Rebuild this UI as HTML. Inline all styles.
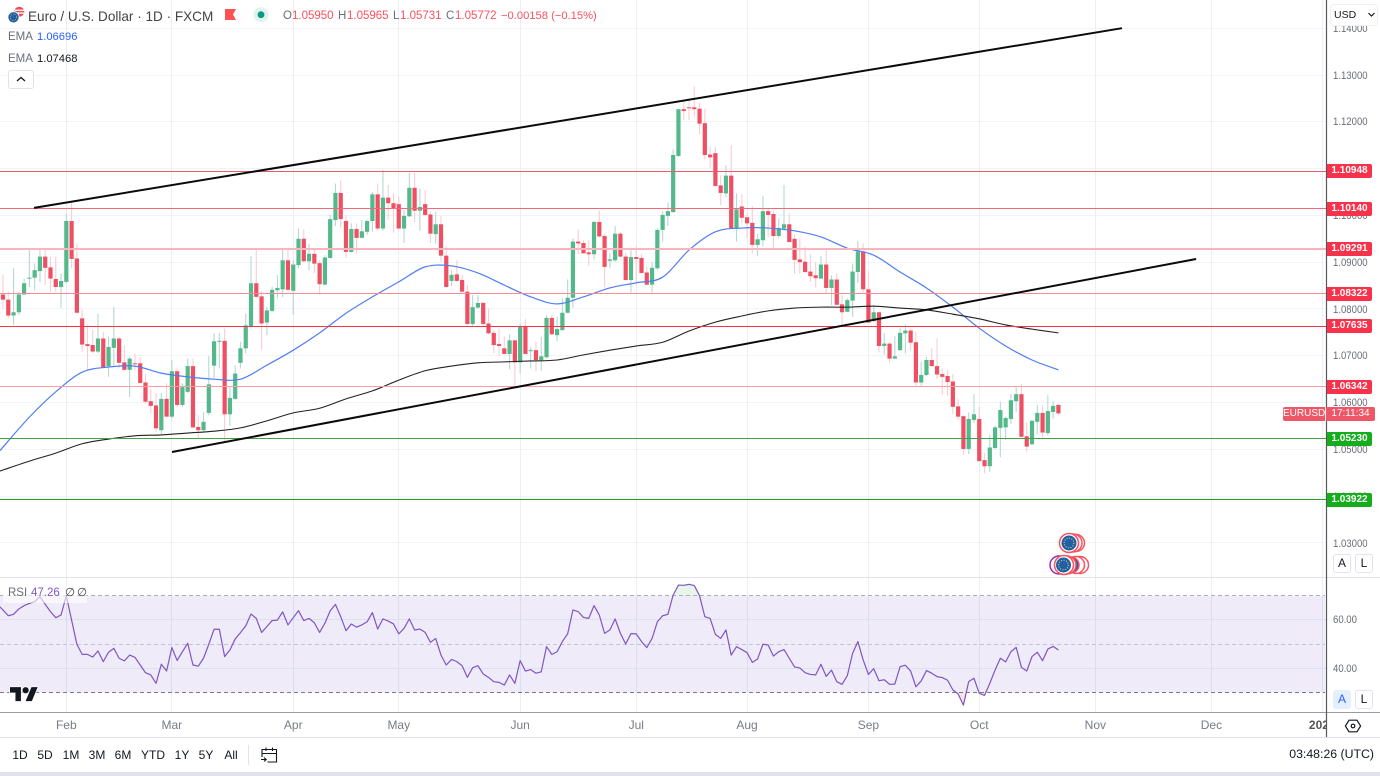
<!DOCTYPE html>
<html lang="en"><head><meta charset="utf-8"><title>EURUSD chart</title>
<style>
html,body{margin:0;padding:0;background:#fff}
body{width:1380px;height:776px;position:relative;overflow:hidden;font-family:"Liberation Sans",sans-serif;color:#131722}
svg{position:absolute;left:0;top:0}
.t{position:absolute;white-space:nowrap;line-height:1}
.btn{position:absolute;box-sizing:border-box;border:1px solid #e0e3eb;border-radius:3px;background:#fff;text-align:center}
.r{color:#f7525f}.g{color:#6a6d78}
.range{position:absolute;top:749px;font-size:12px;line-height:1;transform:translateX(-50%);color:#131722}
</style></head>
<body>
<svg id="chart" width="1380" height="776" viewBox="0 0 1380 776" xmlns="http://www.w3.org/2000/svg">
<defs>
<clipPath id="pane"><rect x="0" y="0" width="1326" height="577"></rect></clipPath>
<clipPath id="rsiAbove"><rect x="0" y="578" width="1326" height="17.7"></rect></clipPath>
<clipPath id="rsiBelow"><rect x="0" y="692.3" width="1326" height="20"></rect></clipPath>
</defs>
<g id="grid"></g>
<g id="rsiPane"></g>
<g id="series" clip-path="url(#pane)"></g>
<g id="levels" clip-path="url(#pane)"></g>
<g id="trends" clip-path="url(#pane)"></g>
<g>
<circle cx="1076" cy="543" r="8.5" fill="#fff" stroke="#f7525f" stroke-width="1.5"/>
<circle cx="1073" cy="543" r="9" fill="#fff" stroke="#f7525f" stroke-width="1.5"/>
<circle cx="1069" cy="543" r="9.5" fill="#fff" stroke="#f7525f" stroke-width="1.5"/>
<circle cx="1069" cy="543" r="7.5" fill="#1d5fa8"/>
<circle cx="1069" cy="543" r="4.8" fill="none" stroke="#f4d03f" stroke-width="1.1" stroke-dasharray="1 1.5"/>
</g>
<g>
<circle cx="1080" cy="565" r="8.5" fill="#fff" stroke="#f7525f" stroke-width="1.5"/>
<circle cx="1076" cy="565" r="8.5" fill="#fff" stroke="#f7525f" stroke-width="1.5"/>
<circle cx="1071" cy="565" r="8" fill="#1d5fa8" stroke="#f7525f" stroke-width="1.5"/>
<circle cx="1059" cy="565" r="9" fill="#fff" stroke="#9c27b0" stroke-width="1.5"/>
<circle cx="1067" cy="565" r="9" fill="#fff" stroke="#f7525f" stroke-width="1.5"/>
<circle cx="1064" cy="565" r="9.5" fill="#fff" stroke="#f7525f" stroke-width="1.5"/>
<circle cx="1063.5" cy="565" r="7.5" fill="#1d5fa8"/>
<circle cx="1063.5" cy="565" r="4.8" fill="none" stroke="#f4d03f" stroke-width="1.1" stroke-dasharray="1 1.5"/>
</g>
<g transform="translate(10 684) scale(.78)">
<path d="M14 22H7V11H0V4h14v18zM28 22h-8l7.5-18h8L28 22z" fill="#131722" stroke="#fff" stroke-width="2" paint-order="stroke"/>
<circle cx="20" cy="8" r="4" fill="#131722" stroke="#fff" stroke-width="2" paint-order="stroke"/>
</g>
<g id="axes"></g>
<g>
<circle cx="19.3" cy="11.7" r="5" fill="#e8505b"/><rect x="15" y="9.6" width="9" height="1.3" fill="#fff"/><rect x="15" y="12.4" width="9" height="1.3" fill="#fff"/>
<circle cx="13.5" cy="17.3" r="5.6" fill="#1d5fa8" stroke="#fff" stroke-width=".8"/>
<circle cx="13.5" cy="17.3" r="3.2" fill="none" stroke="#f4d03f" stroke-width=".8" stroke-dasharray=".8 1.2"/>
</g>
<path d="M225 9h11l-3 5.5 3 5.5h-11z" fill="#ff5252"/>
<g><circle cx="261" cy="14.7" r="7.5" fill="#e0f3ef"/><circle cx="261" cy="14.7" r="3.4" fill="#089981"/></g>
<g fill="none" stroke="#131722" stroke-width="1.2">
<path d="M1349 720.2h8l3.6 5.8-3.6 5.8h-8l-3.6-5.8z"/><circle cx="1353" cy="726" r="1.8"/></g>
<g fill="none" stroke="#131722" stroke-width="1.1">
<path d="M262 757v-7.5h14.5v12.5h-9M262 753.5h14.5M266 747.5v3.5M272.5 747.5v3.5M261 759.5h5M264 757.5l2.2 2-2.2 2"/></g>
</svg>

<div class="t" style="left:28px;top:9px;font-size:14px;color:#444;transform:scaleX(.968);transform-origin:left center">Euro / U.S. Dollar · 1D · FXCM</div>
<div class="t g" style="left:283px;top:10.5px;font-size:11.5px">O</div>
<div class="t r" style="left:292px;top:10.5px;font-size:11.5px">1.05950</div>
<div class="t g" style="left:338px;top:10.5px;font-size:11.5px">H</div>
<div class="t r" style="left:347px;top:10.5px;font-size:11.5px">1.05965</div>
<div class="t g" style="left:393px;top:10.5px;font-size:11.5px">L</div>
<div class="t r" style="left:400px;top:10.5px;font-size:11.5px">1.05731</div>
<div class="t g" style="left:446px;top:10.5px;font-size:11.5px">C</div>
<div class="t r" style="left:455px;top:10.5px;font-size:11.5px">1.05772</div>
<div class="t r" style="left:501px;top:10.5px;font-size:11.2px">−0.00158 (−0.15%)</div>
<div class="t g" style="left:8px;top:31.5px;font-size:11.5px">EMA</div>
<div class="t" style="left:37px;top:31.5px;font-size:11.2px;color:#2962ff">1.06696</div>
<div class="t g" style="left:8px;top:53.5px;font-size:11.5px">EMA</div>
<div class="t" style="left:37px;top:53.5px;font-size:11.2px;color:#131722">1.07468</div>
<div class="btn" style="left:8px;top:70px;width:26px;height:19px">
<svg width="24" height="17"><path d="M8 10l4-3.5 4 3.5" fill="none" stroke="#131722" stroke-width="1.3"/></svg></div>

<div style="position:absolute;left:3px;top:585px;width:84px;height:18px;background:rgba(255,255,255,.6)"></div>
<div class="t g" style="left:8px;top:588px;font-size:11.5px">RSI</div>
<div class="t" style="left:31px;top:588px;font-size:11.5px;color:#7e57c2">47.26</div>
<div class="t g" style="left:65px;top:588px;font-size:11.5px;color:#444">∅</div>
<div class="t g" style="left:77px;top:588px;font-size:11.5px;color:#444">∅</div>

<div id="labels"></div>
<div class="btn" style="left:1330px;top:4px;width:48px;height:22px;border-color:#eef0f4;border-radius:4px"></div>
<div class="t" style="left:1334px;top:10px;font-size:10.5px;color:#131722">USD</div>
<svg width="10" height="8" style="left:1367px;top:11px"><path d="M1.5 2l3 3 3-3" fill="none" stroke="#131722" stroke-width="1.2"/></svg>
<div class="t" style="left:1283px;top:407px;width:42px;height:14px;line-height:14px;background:#ee5767;color:#fff;font-size:10px;text-align:center;border-radius:2px 0 0 2px">EURUSD</div>
<div class="t" style="left:1326px;top:407px;width:49px;height:14px;line-height:14px;background:#ee5767;color:#fff;font-size:10px;text-align:center;border-radius:0 2px 2px 0">17:11:34</div>

<div class="btn" style="left:1333px;top:554px;width:18px;height:19px;font-size:12px;line-height:17px">A</div>
<div class="btn" style="left:1355px;top:554px;width:18px;height:19px;font-size:12px;line-height:17px">L</div>
<div class="btn" style="left:1333px;top:690px;width:18px;height:19px;font-size:12px;line-height:17px;background:#e3effd;border-color:#e3effd;color:#2962ff">A</div>
<div class="btn" style="left:1355px;top:690px;width:18px;height:19px;font-size:12px;line-height:17px">L</div>

<div class="range" style="left:20px">1D</div>
<div class="range" style="left:45px">5D</div>
<div class="range" style="left:71px">1M</div>
<div class="range" style="left:97px">3M</div>
<div class="range" style="left:123px">6M</div>
<div class="range" style="left:153px">YTD</div>
<div class="range" style="left:182px">1Y</div>
<div class="range" style="left:206px">5Y</div>
<div class="range" style="left:231px">All</div>
<div class="t" style="right:6px;top:748px;font-size:12.3px;color:#131722">03:48:26 (UTC)</div>
<div style="position:absolute;left:0;top:772px;width:1380px;height:4px;background:#e0e3eb"></div>

<script>
const opens=[1.0831,1.0820,1.0786,1.0793,1.0831,1.0865,1.0867,1.0881,1.0912,1.0889,
1.0864,1.0847,1.0858,1.0988,1.0908,1.0780,1.0725,1.0723,1.0709,1.0737,
1.0678,1.0717,1.0737,1.0686,1.0670,1.0684,1.0684,1.0643,1.0603,1.0594,
1.0541,1.0608,1.0570,1.0667,1.0595,1.0623,1.0678,1.0548,1.0541,1.0578,
1.0679,1.0730,1.0732,1.0575,1.0608,1.0685,1.0716,1.0763,1.0855,1.0827,
1.0771,1.0796,1.0840,1.0842,1.0904,1.0839,1.0894,1.0950,1.0902,1.0918,
1.0898,1.0852,1.0909,1.0990,1.1048,1.0988,1.0922,1.0971,1.0952,1.0965,
1.0988,1.1045,1.0972,1.1038,1.1026,1.1024,1.0972,1.0998,1.1059,1.1010,
1.1024,1.1002,1.0960,1.0981,1.0914,1.0860,1.0874,1.0862,1.0837,1.0768,
1.0803,1.0813,1.0769,1.0749,1.0725,1.0716,1.0704,1.0733,1.0686,1.0763,
1.0710,1.0712,1.0691,1.0697,1.0781,1.0744,1.0755,1.0792,1.0824,1.0944,
1.0941,1.0921,1.0917,1.0986,1.0956,1.0903,1.0904,1.0961,1.0912,1.0862,
1.0911,1.0909,1.0878,1.0852,1.0887,1.0969,1.0999,1.1007,1.1127,1.1227,
1.1231,1.1231,1.1228,1.1197,1.1130,1.1133,1.1064,1.1047,1.1085,1.0973,
1.1019,1.0996,1.0984,1.0937,1.0947,1.1009,1.1003,1.0956,1.0972,1.0981,
1.0950,1.0906,1.0901,1.0880,1.0872,1.0865,1.0895,1.0845,1.0863,1.0810,
1.0794,1.0818,1.0879,1.0923,1.0842,1.0774,1.0793,1.0721,1.0726,1.0694,
1.0712,1.0748,1.0754,1.0729,1.0643,1.0659,1.0691,1.0678,1.0661,1.0657,
1.0645,1.0592,1.0571,1.0501,1.0563,1.0565,1.0477,1.0464,1.0503,1.0546,
1.0547,1.0565,1.0603,1.0618,1.0528,1.0511,1.0559,1.0578,1.0535,1.0580,1.0595];
const highs=[1.0874,1.0837,1.0887,1.0837,1.0865,1.0928,1.0897,1.0926,1.0929,1.0912,
1.0912,1.0876,1.1004,1.1031,1.0940,1.0799,1.0766,1.0755,1.0790,1.0751,
1.0741,1.0805,1.0741,1.0721,1.0698,1.0705,1.0698,1.0662,1.0628,1.0620,
1.0620,1.0641,1.0691,1.0673,1.0641,1.0694,1.0694,1.0573,1.0580,1.0699,
1.0748,1.0749,1.0758,1.0634,1.0680,1.0730,1.0790,1.0913,1.0929,1.0839,
1.0805,1.0847,1.0872,1.0926,1.0927,1.0904,1.0972,1.0970,1.0939,1.0926,
1.0904,1.0915,1.1001,1.1068,1.1075,1.1001,1.0983,1.0983,1.0990,1.0991,
1.1050,1.1068,1.1097,1.1065,1.1047,1.1040,1.1011,1.1091,1.1091,1.1057,
1.1054,1.1008,1.1008,1.0998,1.0934,1.0883,1.0904,1.0872,1.0851,1.0830,
1.0830,1.0815,1.0801,1.0755,1.0758,1.0741,1.0746,1.0734,1.0769,1.0778,
1.0719,1.0730,1.0741,1.0787,1.0787,1.0783,1.0823,1.0863,1.0951,1.0970,
1.0947,1.0947,1.0988,1.1011,1.0960,1.0919,1.0977,1.0965,1.0920,1.0931,
1.0934,1.0917,1.0890,1.0901,1.0972,1.1008,1.1027,1.1141,1.1228,1.1243,
1.1250,1.1276,1.1241,1.1228,1.1147,1.1147,1.1086,1.1107,1.1150,1.1047,
1.1045,1.1004,1.1020,1.0961,1.1042,1.1015,1.1010,1.0994,1.1065,1.1004,
1.0960,1.0951,1.0933,1.0917,1.0901,1.0913,1.0929,1.0872,1.0876,1.0830,
1.0823,1.0897,1.0945,1.0940,1.0881,1.0808,1.0794,1.0749,1.0730,1.0742,
1.0759,1.0767,1.0759,1.0751,1.0687,1.0698,1.0716,1.0737,1.0673,1.0671,
1.0661,1.0608,1.0573,1.0579,1.0618,1.0591,1.0493,1.0531,1.0551,1.0602,
1.0570,1.0618,1.0635,1.0640,1.0558,1.0563,1.0595,1.0594,1.0616,1.0603,1.0597];
const lows=[1.0801,1.0780,1.0766,1.0787,1.0830,1.0847,1.0840,1.0858,1.0851,1.0837,
1.0837,1.0803,1.0855,1.0887,1.0790,1.0709,1.0671,1.0705,1.0706,1.0673,
1.0655,1.0677,1.0673,1.0669,1.0612,1.0669,1.0641,1.0598,1.0577,1.0538,
1.0533,1.0570,1.0566,1.0591,1.0591,1.0620,1.0545,1.0523,1.0538,1.0573,
1.0652,1.0673,1.0516,1.0550,1.0605,1.0673,1.0705,1.0758,1.0825,1.0712,
1.0744,1.0794,1.0823,1.0825,1.0839,1.0787,1.0887,1.0899,1.0883,1.0877,
1.0831,1.0851,1.0908,1.0977,1.0972,1.0910,1.0920,1.0919,1.0951,1.0958,
1.0965,1.0968,1.0967,1.0991,1.0963,1.0970,1.0941,1.0997,1.0986,1.0967,
1.0998,1.0941,1.0940,1.0901,1.0846,1.0849,1.0858,1.0835,1.0766,1.0762,
1.0801,1.0762,1.0746,1.0706,1.0701,1.0703,1.0671,1.0634,1.0662,1.0703,
1.0673,1.0667,1.0668,1.0694,1.0744,1.0731,1.0753,1.0790,1.0803,1.0917,
1.0918,1.0892,1.0906,1.0953,1.0846,1.0887,1.0901,1.0910,1.0860,1.0835,
1.0851,1.0876,1.0851,1.0835,1.0884,1.0944,1.0977,1.1006,1.1125,1.1204,
1.1204,1.1209,1.1174,1.1120,1.1102,1.1061,1.1022,1.1038,1.0971,1.0944,
1.0983,1.0953,1.0919,1.0913,1.0934,1.0954,1.0929,1.0951,1.0967,1.0942,
1.0875,1.0876,1.0877,1.0858,1.0846,1.0864,1.0832,1.0808,1.0808,1.0766,
1.0793,1.0783,1.0856,1.0835,1.0771,1.0773,1.0707,1.0702,1.0685,1.0694,
1.0711,1.0705,1.0712,1.0634,1.0635,1.0657,1.0677,1.0650,1.0616,1.0614,
1.0575,1.0563,1.0488,1.0490,1.0557,1.0474,1.0449,1.0452,1.0500,1.0483,
1.0520,1.0554,1.0580,1.0526,1.0495,1.0509,1.0533,1.0521,1.0529,1.0566,1.0573];
const closes=[1.0820,1.0786,1.0793,1.0831,1.0855,1.0867,1.0883,1.0912,1.0888,1.0865,
1.0847,1.0860,1.0988,1.0907,1.0792,1.0724,1.0721,1.0709,1.0737,1.0675,
1.0719,1.0737,1.0685,1.0670,1.0694,1.0683,1.0642,1.0602,1.0593,1.0545,
1.0608,1.0570,1.0667,1.0595,1.0633,1.0678,1.0547,1.0541,1.0559,1.0639,
1.0731,1.0732,1.0575,1.0610,1.0662,1.0716,1.0765,1.0855,1.0826,1.0769,
1.0797,1.0841,1.0845,1.0904,1.0841,1.0895,1.0950,1.0902,1.0918,1.0897,
1.0853,1.0910,1.0992,1.1048,1.0992,1.0922,1.0971,1.0952,1.0966,1.0988,
1.1045,1.0972,1.1038,1.1026,1.1014,1.0972,1.0999,1.1059,1.1010,1.1018,
1.1001,1.0961,1.0981,1.0914,1.0847,1.0873,1.0860,1.0837,1.0768,1.0804,
1.0813,1.0768,1.0748,1.0723,1.0721,1.0704,1.0733,1.0686,1.0762,1.0704,
1.0712,1.0691,1.0699,1.0781,1.0746,1.0757,1.0792,1.0824,1.0944,1.0940,
1.0919,1.0917,1.0986,1.0955,1.0890,1.0906,1.0961,1.0912,1.0862,1.0911,
1.0907,1.0877,1.0852,1.0888,1.0969,1.1001,1.1009,1.1129,1.1227,1.1223,
1.1229,1.1227,1.1196,1.1129,1.1124,1.1063,1.1048,1.1085,1.0973,1.1013,
1.0995,1.0983,1.0937,1.0949,1.1009,1.1001,1.0956,1.0973,1.0981,1.0943,
1.0905,1.0900,1.0879,1.0870,1.0866,1.0895,1.0845,1.0863,1.0809,1.0793,
1.0819,1.0880,1.0923,1.0842,1.0771,1.0793,1.0721,1.0726,1.0694,1.0699,
1.0749,1.0754,1.0728,1.0643,1.0659,1.0691,1.0678,1.0660,1.0655,1.0644,
1.0591,1.0570,1.0501,1.0565,1.0575,1.0475,1.0464,1.0504,1.0547,1.0584,
1.0567,1.0605,1.0618,1.0527,1.0506,1.0561,1.0578,1.0536,1.0582,1.0593,1.0577];
const emaBars=[-1,0,5,10,15,20,25,30,35,40,45,50,55,60,65,70,75,80,85,90,95,100,105,110,115,120,125,130,135,140,145,150,155,160,165,170,175,180,185,190,195,200];
const emaFast=[1.0492,1.0505,1.0569,1.0623,1.0665,1.0676,1.0678,1.0663,1.0655,1.0650,1.0650,1.0680,1.0712,1.0749,1.0791,1.0826,1.0858,1.0890,1.0892,1.0877,1.0851,1.0826,1.0811,1.0826,1.0845,1.0856,1.0868,1.0926,1.0965,1.0973,1.0973,1.0967,1.0954,1.0930,1.0915,1.0879,1.0845,1.0804,1.0759,1.0721,1.0691,1.0670];
const emaSlow=[1.0452,1.0456,1.0475,1.0492,1.0512,1.0522,1.0529,1.0531,1.0535,1.0539,1.0546,1.0561,1.0578,1.0588,1.0608,1.0625,1.0648,1.0668,1.0678,1.0685,1.0687,1.0689,1.0691,1.0702,1.0712,1.0721,1.0729,1.0753,1.0772,1.0785,1.0796,1.0802,1.0804,1.0804,1.0806,1.0802,1.0798,1.0789,1.0779,1.0766,1.0757,1.0749];
const rsiFirstBar=-1;
const rsiValues=[66.2,64.1,61.7,62.3,64.5,65.9,66.8,67.5,69.6,66.4,63.4,60.9,62.0,70.0,59.9,49.9,45.7,45.7,44.6,47.1,42.7,
46.6,48.2,44.1,43.0,45.4,44.5,41.3,38.1,37.2,33.7,41.6,38.8,48.5,43.2,46.8,50.3,41.3,40.8,44.1,49.9,
56.1,56.1,44.8,47.5,52.1,54.7,57.5,62.4,60.6,54.8,57.2,59.7,59.9,63.3,57.9,60.9,63.8,59.7,60.6,58.8,
54.8,58.6,63.7,66.4,61.3,55.5,58.3,57.0,57.9,59.2,63.0,56.2,60.4,59.5,58.3,54.2,56.5,60.4,55.8,56.2,
54.8,50.7,52.3,45.4,41.3,43.6,42.7,41.0,36.2,40.2,41.0,37.6,36.2,34.4,34.1,33.0,37.2,33.7,43.1,38.8,
39.4,37.9,38.5,48.9,45.7,46.8,51.0,54.2,64.1,63.4,61.0,60.6,65.9,62.0,54.4,55.8,60.4,54.4,50.0,54.3,
54.2,51.0,48.5,52.3,59.2,61.7,62.3,70.3,74.4,74.3,74.7,74.2,70.0,61.3,60.6,54.0,52.3,55.8,45.4,48.9,
47.7,46.4,42.4,43.8,49.9,49.6,45.0,46.8,47.7,44.1,40.5,40.1,38.1,37.4,37.2,41.6,36.6,39.2,34.4,33.3,
36.9,46.1,51.0,43.4,37.4,39.8,34.8,35.2,33.3,33.4,40.6,41.2,38.8,32.3,34.7,39.0,37.9,36.5,36.1,35.0,
31.0,29.3,24.7,34.4,35.8,29.6,28.7,33.7,39.2,44.1,42.6,46.8,48.6,40.3,38.8,44.8,46.6,43.1,47.9,49.0,47.5];
const monthLabels=["Feb","Mar","Apr","May","Jun","Jul","Aug","Sep","Oct","Nov","Dec","2024"];
const monthBars=[12,32,55,75,98,120,141,164,185,207,229,250];
const priceTicks=[1.03,1.04,1.05,1.06,1.07,1.08,1.09,1.10,1.11,1.12,1.13,1.14];
const priceTickLabels=["1.03000","1.04000","1.05000","1.06000","1.07000","1.08000","1.09000","1.10000","1.11000","1.12000","1.13000","1.14000"];
const rsiTicks=[40,60];
const rsiTickLabels=["40.00","60.00"];
const rsiBands=[70,50,30];
const levelPrices=[1.10948,1.10140,1.09291,1.08322,1.07635,1.06342,1.05230,1.03922];
const levelLabels=["1.10948","1.10140","1.09291","1.08322","1.07635","1.06342","1.05230","1.03922"];
const trendStartBars=[5.87,32.03];
const trendStartPrices=[1.1016,1.04944];
const trendEndBars=[212.05,226.1];
const trendEndPrices=[1.1400,1.09068];

const NS="http://www.w3.org/2000/svg";
const xAt=i=>3+5.277*i;
const yAt=p=>75+(1.13-p)*4680;
const rsiY=v=>644-(v-50)*2.415;
const snap=y=>Math.floor(y)+.5;
function mk(parent,tag,attrs){
  const el=document.createElementNS(NS,tag);
  for(const k in attrs)el.setAttribute(k,attrs[k]);
  parent.appendChild(el);
  return el;
}
function smoothPath(pts){
  let d='M'+pts[0][0].toFixed(2)+' '+pts[0][1].toFixed(2);
  for(let i=0;i<pts.length-1;i++){
    const p0=pts[Math.max(i-1,0)],p1=pts[i],p2=pts[i+1],p3=pts[Math.min(i+2,pts.length-1)];
    const c1x=p1[0]+(p2[0]-p0[0])/6,c1y=p1[1]+(p2[1]-p0[1])/6;
    const c2x=p2[0]-(p3[0]-p1[0])/6,c2y=p2[1]-(p3[1]-p1[1])/6;
    d+=' C'+c1x.toFixed(2)+' '+c1y.toFixed(2)+' '+c2x.toFixed(2)+' '+c2y.toFixed(2)+' '+p2[0].toFixed(2)+' '+p2[1].toFixed(2);
  }
  return d;
}
const grid=document.getElementById('grid');
const series=document.getElementById('series');
const levels=document.getElementById('levels');
const trends=document.getElementById('trends');
const rsiPane=document.getElementById('rsiPane');
const axes=document.getElementById('axes');
const labels=document.getElementById('labels');

function label(parent,name,text,css){
  const d=document.createElement('div');
  d.className='t';
  d.textContent=text;
  d.style.cssText=css;
  
  
  parent.appendChild(d);
  return d;
}
const tickCss='left:1333px;font-size:11px;color:#6a6d78;transform:scaleX(.87);transform-origin:left center;';

priceTicks.forEach((p,i)=>{
  const ln=mk(grid,'line',{x1:0,x2:1326,y1:snap(yAt(p)),y2:snap(yAt(p)),stroke:'#f0f3f7','stroke-width':1});
  
  
  label(labels,'price-tick-label',priceTickLabels[i],tickCss+`top:${yAt(p)-4.5}px`);
});
rsiTicks.forEach((v,i)=>{
  const t=label(labels,'rsi-tick-label',rsiTickLabels[i],tickCss+`top:${rsiY(v)-4.5}px`);
});
monthBars.forEach((b,i)=>{
  const x=xAt(b);
  if(x<1325){
    const ln=mk(grid,'line',{x1:snap(x),x2:snap(x),y1:0,y2:712,stroke:'#e9eff4','stroke-width':1});
    
    
  }
  const t=mk(axes,'text',{x:x,y:729,'text-anchor':'middle','font-size':12,fill:i===11?'#555':'#787b86','font-weight':i===11?'bold':'normal','font-family':'"Liberation Sans",sans-serif','clip-path':'url(#timeClip)'});
  t.textContent=monthLabels[i];
  
  
});
const timeClip=mk(document.querySelector('#chart defs'),'clipPath',{id:'timeClip'});
mk(timeClip,'rect',{x:0,y:712,width:1326,height:25});

/* RSI pane */
const band=mk(rsiPane,'rect',{x:0,y:rsiY(rsiBands[0]),width:1325,height:rsiY(rsiBands[2])-rsiY(rsiBands[0]),fill:'#7e57c2','fill-opacity':.12});


rsiTicks.forEach(v=>{
  const ln=mk(rsiPane,'line',{x1:0,x2:1326,y1:snap(rsiY(v)),y2:snap(rsiY(v)),stroke:'#dfe0ee','stroke-width':1});
  
  
});
rsiBands.forEach((v,i)=>{
  const ln=mk(rsiPane,'line',{x1:0,x2:1325,y1:snap(rsiY(v)),y2:snap(rsiY(v)),stroke:i===2?'#787b86':(i===1?'#c5c3d3':'#b0afbb'),'stroke-width':1,'stroke-dasharray':'4 3'});
  
  
});
const rsiPts=rsiValues.map((v,i)=>xAt(i+rsiFirstBar).toFixed(2)+','+rsiY(v).toFixed(2));
const rsiLastX=xAt(rsiValues.length-1+rsiFirstBar);
const overFill=mk(rsiPane,'polygon',{points:rsiPts.join(' ')+` ${rsiLastX},${rsiY(rsiBands[0])} 0,${rsiY(rsiBands[0])}`,fill:'#4caf50','fill-opacity':.12,'clip-path':'url(#rsiAbove)'});


const underFill=mk(rsiPane,'polygon',{points:rsiPts.join(' ')+` ${rsiLastX},${rsiY(rsiBands[2])} 0,${rsiY(rsiBands[2])}`,fill:'#f23645','fill-opacity':.15,'clip-path':'url(#rsiBelow)'});


const rsiLine=mk(rsiPane,'polyline',{points:rsiPts.join(' '),fill:'none',stroke:'#7e57c2','stroke-width':1.2,'stroke-linejoin':'round'});



/* Candles */
closes.forEach((c,i)=>{
  const o=opens[i],h=highs[i],l=lows[i],up=c>=o,x=xAt(i);
  const g=mk(series,'g',{});
  
  
  mk(g,'line',{x1:x,x2:x,y1:yAt(h),y2:yAt(l),stroke:up?'#b4d8d4':'#f9ccd2','stroke-width':1.1});
  const top=yAt(Math.max(o,c)),bot=yAt(Math.min(o,c));
  mk(g,'rect',{x:x-2.1,y:top,width:4.2,height:Math.max(bot-top,1),fill:up?'#53b88a':'#ee4f62'});
});

/* EMAs */
const fastLine=mk(series,'path',{d:smoothPath(emaBars.map((b,i)=>[xAt(b),yAt(emaFast[i])])),fill:'none',stroke:'#4f7df2','stroke-width':1.2});


const slowLine=mk(series,'path',{d:smoothPath(emaBars.map((b,i)=>[xAt(b),yAt(emaSlow[i])])),fill:'none',stroke:'#222','stroke-width':1.1});



/* Horizontal levels */
const levelLineStyle=[['#ee5a68',1],['#f4687a',1],['#fbb4bc',2],['#f98a96',1],['#f23645',1],['#fc9ca6',1],['#43a047',1],['#1aaa1a',1]];
levelPrices.forEach((p,i)=>{
  const y=levelLineStyle[i][1]===2?Math.round(yAt(p)):snap(yAt(p));
  const ln=mk(levels,'line',{x1:0,x2:1326,y1:y,y2:y,stroke:levelLineStyle[i][0],'stroke-width':levelLineStyle[i][1]});
  
  
  const green=i>=6;
  label(labels,'level-price-badge',levelLabels[i],`left:1327px;top:${yAt(p)-7}px;width:45px;height:14px;line-height:14px;background:${green?'#14ad1c':'#f7324a'};color:#fff;font-size:10px;font-weight:bold;text-align:center;border-radius:0 2px 2px 0`);
});

/* Trend lines */
trendStartBars.forEach((b,i)=>{
  const ln=mk(trends,'line',{x1:xAt(b),y1:yAt(trendStartPrices[i]),x2:xAt(trendEndBars[i]),y2:yAt(trendEndPrices[i]),stroke:'#0a0a0a','stroke-width':2});
  
  
});

/* Frame lines */
const sep1=mk(axes,'line',{x1:0,x2:1380,y1:577.5,y2:577.5,stroke:'#e0e3eb','stroke-width':1});


const sep2=mk(axes,'line',{x1:0,x2:1380,y1:712.5,y2:712.5,stroke:'#9a9ca3','stroke-width':1});


const sep3=mk(axes,'line',{x1:0,x2:1380,y1:737.5,y2:737.5,stroke:'#e0e3eb','stroke-width':1});


const sep4=mk(axes,'line',{x1:248.5,x2:248.5,y1:745,y2:765,stroke:'#e0e3eb','stroke-width':1});


const axisLine=mk(axes,'line',{x1:1326.5,x2:1326.5,y1:0,y2:737,stroke:'#55585f','stroke-width':1.2});


</script>
</body></html>
